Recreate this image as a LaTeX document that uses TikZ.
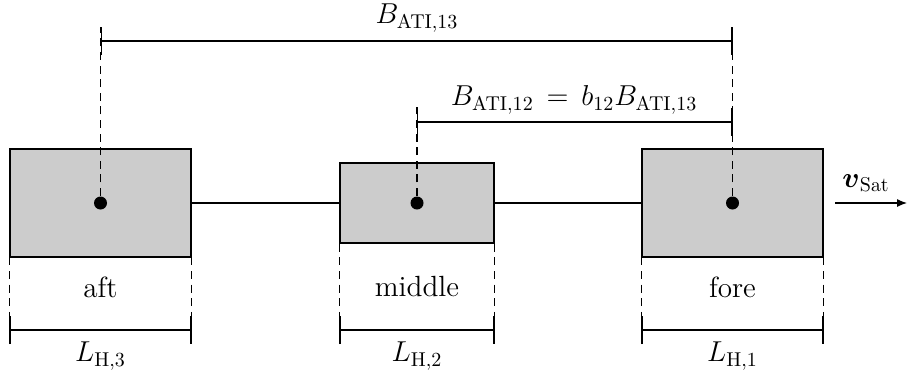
\documentclass[tikz,border=0pt]{standalone}
\usepackage{amsmath}
\usetikzlibrary{arrows.meta}
\definecolor{boxgray}{HTML}{CCCCCC}
\begin{document}
\begin{tikzpicture}[x=0.5pt,y=-0.5pt,line width=0.6pt,
  font=\fontsize{14.6}{17}\selectfont,
  satbox/.style={draw=black,fill=boxgray,line width=0.65pt,inner sep=0pt},
  dot/.style={circle,fill=black,inner sep=0pt,minimum size=6.5pt},
  dash line/.style={dash pattern=on 4pt off 2.8pt},
  dim/.style={{Bar[width=14pt]}-{Bar[width=14pt]}},
  lbl/.style={inner sep=0pt}]
\useasboundingbox (0,0) rectangle (908,376);
% boxes
\node[satbox,minimum width=90.5pt,minimum height=54pt] (aft) at (100.5,203) {};
\node[satbox,minimum width=77pt,minimum height=40pt] (mid) at (417,203) {};
\node[satbox,minimum width=90.5pt,minimum height=54pt] (fore) at (732.5,203) {};
% connectors
\draw (aft.east) -- (mid.west);
\draw (mid.east) -- (fore.west);
% dots
\node[dot] (da) at (aft.center) {};
\node[dot] (dm) at (mid.center) {};
\node[dot] (df) at (fore.center) {};
% top dimension coordinates
\coordinate (ta) at (100.5,27);
\coordinate (tf) at (732.5,27);
\coordinate (tm) at (417,107);
\draw[dash line] (da) -- (ta);
\draw[dash line] (df) -- (tf);
\draw[dash line] (dm) -- (tm);
\coordinate (d1a) at (100.5,41);
\coordinate (d1b) at (732.5,41);
\draw[dim] (d1a) -- (d1b);
\coordinate (d2a) at (417,122);
\coordinate (d2b) at (732.5,122);
\draw[dim] (d2a) -- (d2b);
\node[lbl] (l13) at (417,18) {$B_{\mathrm{ATI},13}$};
\node[lbl] (l12) at (574,100) {$B_{\mathrm{ATI},12}\,=\,b_{12}B_{\mathrm{ATI},13}$};
% bottom dashed extension lines
\foreach \b in {aft,mid,fore}{
  \coordinate (\b-bl) at (\b.west |- 0,343);
  \coordinate (\b-br) at (\b.east |- 0,343);
  \draw[dash line] (\b.west) -- (\b-bl);
  \draw[dash line] (\b.east) -- (\b-br);
  \draw[dim] (\b.west |- 0,330) -- (\b.east |- 0,330);
}
% labels
\node[lbl] (naft) at (100.5,287) {aft};
\node[lbl] (nmid) at (417,287) {middle};
\node[lbl] (nfore) at (732.5,287) {fore};
\node[lbl] (L3) at (100.5,356) {$L_{\mathrm{H},3}$};
\node[lbl] (L2) at (417,356) {$L_{\mathrm{H},2}$};
\node[lbl] (L1) at (732.5,356) {$L_{\mathrm{H},1}$};
% velocity arrow
\coordinate (va) at (835,203);
\coordinate (vb) at (907,203);
\draw[-{Latex[length=5pt,width=4pt]}] (va) -- (vb);
\node[lbl] (vs) at (866,183) {$\boldsymbol{v}_{\mathrm{Sat}}$};
\end{tikzpicture}
\end{document}
